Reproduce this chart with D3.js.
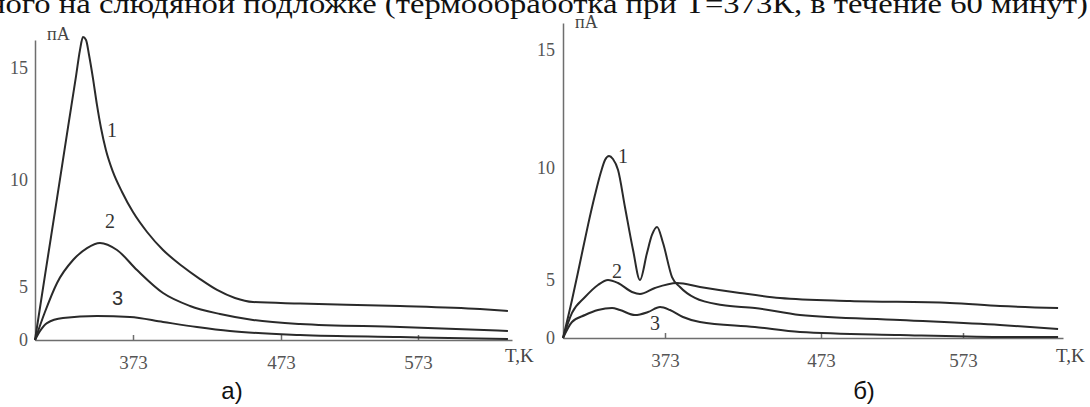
<!DOCTYPE html>
<html lang="ru">
<head>
    <meta charset="UTF-8">
    <title>Токи ТСД</title>
    <script src="https://cdnjs.cloudflare.com/ajax/libs/d3/7.8.5/d3.min.js"></script>
    <style>
        body { margin: 0; background: #fff; }
        .curve { fill: none; stroke: #2a2a2a; stroke-width: 2px; }
        .axis path, .axis line { stroke: #6e6e6e; stroke-width: 1.5px; }
        .lbl { font-family: "Liberation Serif", serif; fill: #444; }
        .num { font-family: "Liberation Serif", serif; font-size: 20px; fill: #333; }
        .cap { font-family: "Liberation Sans", sans-serif; font-size: 24px; fill: #111; }
        .title { font-family: "Liberation Serif", serif; font-size: 28px; fill: #111; }
    </style>
</head>
<body>
<svg id="chart"></svg>
<script>
    // temperature, K
    const tempDomain = [305, 373, 473, 573, 640];
    const tempTicks = [373, 473, 573];
    // current, pA
    const currentTicks = [0, 5, 10, 15];

    // panel a) : [T, I]
    const curveA1 = [[305,0],[311.9,5.53],[320.3,9.15],[327.9,12.35],[333.5,14.65],[336.2,15.8],[338.3,16.38],
        [340.4,16.25],[342.5,15.58],[345.2,14.55],[348.0,13.35],[350.8,12.32],[354.2,11.34],[359.1,10.36],
        [365.4,9.44],[373,8.5],[382.5,7.57],[393.3,6.73],[406.1,5.98],[418.3,5.37],[429.8,4.72],
        [441.9,3.96],[454.1,3.58],[486.9,3.44],[559.9,3.21],[617.2,2.92],[637.1,2.74]];
    const curveA2 = [[305,0],[311.9,2.64],[320.3,5.19],[331.4,6.26],[341.1,6.82],[350.1,7.06],[361.9,6.73],
        [375.7,5.79],[393.3,4.43],[411.5,3.21],[431.8,2.45],[454.1,1.89],[486.9,1.51],[559.9,1.23],[637.1,0.85]];
    const curveA3 = [[305,0],[308.5,0.85],[313.3,1.6],[324.4,2.08],[348.0,2.26],[370.9,2.17],[393.3,1.7],
        [416.2,1.23],[438.5,0.85],[486.9,0.47],[559.9,0.28],[637.1,0.09]];

    // panel б)
    const curveB1 = [[305,0],[311,3.28],[316.3,5.76],[321.7,7.46],[326.3,8.79],[330.3,9.82],[333,10.34],
        [335.7,10.51],[338.3,10.38],[341.7,9.91],[346.3,8.26],[351.7,6.34],[356.3,5.0],[361,6.21],
        [364.3,7.01],[367.7,7.37],[371.7,6.65],[377.5,5.13],[382.6,4.4],[392.2,3.45],[409.5,2.84],
        [430.6,2.59],[459.5,1.98],[528.6,1.55],[597.8,1.12],[636.7,0.78]];
    const curveB2 = [[305,0],[311,2.16],[319.7,3.53],[328.3,4.57],[335,5.0],[341.7,4.74],[351,3.97],
        [356.3,3.79],[366.3,4.31],[380.7,4.74],[395.4,4.4],[421,3.88],[446.7,3.45],[493.4,3.19],
        [563.8,3.02],[597.8,2.76],[636.7,2.59]];
    const curveB3 = [[305,0],[311,1.38],[319.7,1.98],[328.3,2.41],[337.7,2.59],[343,2.41],[353,1.98],
        [361.7,2.24],[369.7,2.67],[376.2,2.41],[384.5,1.81],[395.4,1.38],[430.6,0.95],[459.5,0.52],
        [528.6,0.26],[597.8,0.09],[636.7,0.09]];

    const labelsA = [["1", 355, 11.92], ["2", 353.6, 7.76], ["3", 358.4, 3.3]];
    const labelsB = [["1", 341.7, 10.21], ["2", 337.7, 5.09], ["3", 363, 0.69]];

    const svg = d3.select("#chart").attr("width", 1090).attr("height", 407);

    svg.append("text").attr("class", "title")
        .attr("x", -12).attr("y", 13)
        .attr("textLength", 1100).attr("lengthAdjust", "spacingAndGlyphs")
        .text("ного на слюдяной подложке (термообработка при Т=373К, в течение 60 минут)");

    function drawPanel(p) {
        const x = d3.scaleLinear().domain(tempDomain).range(p.xRange);
        const y = d3.scaleLinear().domain(p.yDomain).range(p.yRange);
        const x0 = p.xRange[0], y0 = p.yRange[0];

        const xa = svg.append("g").attr("class", "axis")
            .attr("transform", `translate(0,${y0})`)
            .call(d3.axisBottom(x).tickValues(tempTicks).tickSizeInner(-5).tickSizeOuter(0)
                .tickPadding(16).tickFormat(d3.format("d")));
        xa.attr("font-family", null).attr("font-size", null);
        xa.selectAll("text")
            .style("font-family", "Liberation Serif, serif")
            .style("font-size", "19px").style("fill", "#555");

        const ya = svg.append("g").attr("class", "axis")
            .attr("transform", `translate(${x0},0)`)
            .call(d3.axisLeft(y).tickValues(currentTicks).tickSize(0).tickPadding(p.yPad));
        ya.attr("font-family", null).attr("font-size", null);
        ya.selectAll("text")
            .style("font-family", "Liberation Serif, serif")
            .style("font-size", "18px").style("fill", "#555");

        const line = d3.line()
            .x(d => x(d[0]))
            .y(d => y(d[1]))
            .curve(d3.curveMonotoneX);

        p.curves.forEach(c => {
            svg.append("path").attr("class", "curve").attr("d", line(c));
        });

        p.labels.forEach((l, i) => {
            svg.append("text").attr("class", "num")
                .attr("x", x(l[1])).attr("y", y(l[2]))
                .style("font-family", p.sansThree && i === 2 ? "Liberation Sans, sans-serif" : null)
                .text(l[0]);
        });

        svg.append("text").attr("class", "lbl").style("font-size", "18px")
            .attr("x", x0 + p.unitDx).attr("y", p.unitY).text("пА");
        svg.append("text").attr("class", "lbl").style("font-size", "19px")
            .attr("x", p.xRange[p.xRange.length - 1] - 7).attr("y", 362).text("T,K");
        svg.append("text").attr("class", "cap")
            .attr("x", p.capX).attr("y", 399).attr("text-anchor", "middle").text(p.cap);
    }

    drawPanel({
        xRange: [35, 133, 281, 418, 512],
        yDomain: [0, 5, 10, 15, 16.25],
        yRange: [340, 287, 180, 68, 40],
        yPad: 7,
        curves: [curveA1, curveA2, curveA3],
        labels: labelsA,
        sansThree: true,
        unitDx: 12, unitY: 40,
        capX: 232, cap: "а)"
    });

    drawPanel({
        xRange: [563, 665, 821, 963, 1063],
        yDomain: [0, 5, 10, 15, 16.14],
        yRange: [338, 280, 168, 50, 23],
        yPad: 8,
        curves: [curveB1, curveB2, curveB3],
        labels: labelsB,
        sansThree: false,
        unitDx: 12, unitY: 28,
        capX: 864, cap: "б)"
    });
</script>
</body>
</html>
